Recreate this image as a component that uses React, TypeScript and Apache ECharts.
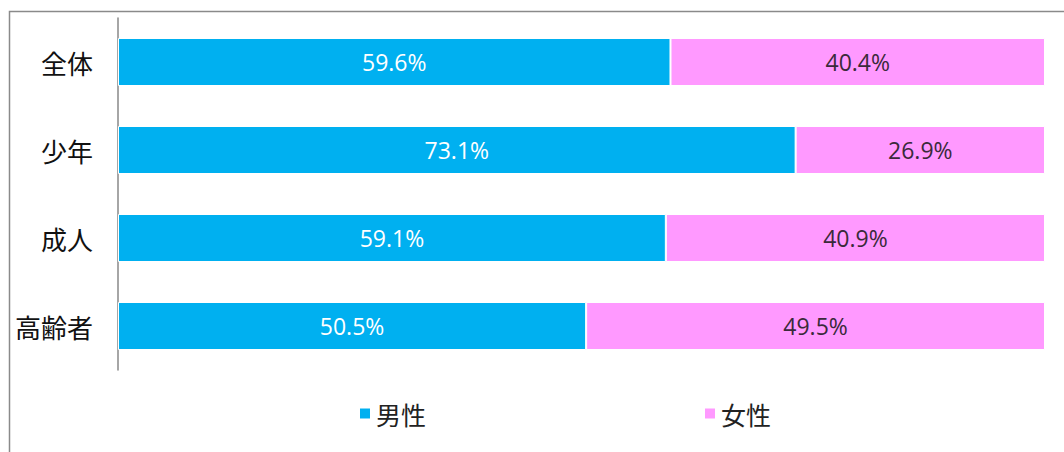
import React, { useEffect, useRef } from "react";
import * as echarts from "echarts";

const categories = ["全体", "少年", "成人", "高齢者"];
const maleValues = [59.6, 73.1, 59.1, 50.5];
const femaleValues = [40.4, 26.9, 40.9, 49.5];
const seriesNames = ["男性", "女性"];

export default function App() {
  const ref = useRef<HTMLDivElement>(null);
  useEffect(() => {
    document.body.style.margin = "0";
    const chart = echarts.init(ref.current!, null, { renderer: "svg" });
    const cjk = "'Noto Sans CJK JP', sans-serif";
    const num = "'Open Sans', 'Noto Sans', sans-serif";
    chart.setOption({
      animation: false,
      backgroundColor: "#fff",
      graphic: [
        {
          type: "rect",
          shape: { x: 9.5, y: 11.5, width: 1200, height: 600 },
          style: { fill: "none", stroke: "#8a8a8a", lineWidth: 1.5 },
          silent: true,
        },
      ],
      grid: { left: 118, right: 19, top: 18, bottom: 82 },
      legend: {
        left: 353,
        top: 396,
        icon: "rect",
        itemWidth: 12,
        itemHeight: 12,
        itemGap: 277,
        textStyle: { fontSize: 25, color: "#222", fontFamily: cjk },
        data: seriesNames,
      },
      xAxis: {
        type: "value",
        min: 0,
        max: 100,
        show: false,
      },
      yAxis: {
        type: "category",
        data: categories,
        inverse: true,
        axisLine: { show: true, lineStyle: { color: "#888", width: 1.5 } },
        axisTick: { show: false },
        axisLabel: { fontSize: 26, color: "#111", margin: 25, fontFamily: cjk },
      },
      series: [
        {
          name: seriesNames[0],
          type: "bar",
          stack: "total",
          barWidth: 48,
          data: maleValues,
          itemStyle: { color: "#00B0F0", borderColor: "#fff", borderWidth: 1 },
          label: {
            show: true,
            position: "inside",
            color: "#fff",
            fontSize: 23,
            fontFamily: num,
            formatter: (p: any) => p.value.toFixed(1) + "%",
          },
        },
        {
          name: seriesNames[1],
          type: "bar",
          stack: "total",
          barWidth: 48,
          data: femaleValues,
          itemStyle: { color: "#FF99FF", borderColor: "#fff", borderWidth: 1 },
          label: {
            show: true,
            position: "inside",
            color: "#3a2a3a",
            fontSize: 23,
            fontFamily: num,
            formatter: (p: any) => p.value.toFixed(1) + "%",
          },
        },
      ],
    });
    return () => chart.dispose();
  }, []);
  return (
    <div
      ref={ref}
      style={{ position: "absolute", left: 0, top: 0, width: 1064, height: 452 }}
    />
  );
}
